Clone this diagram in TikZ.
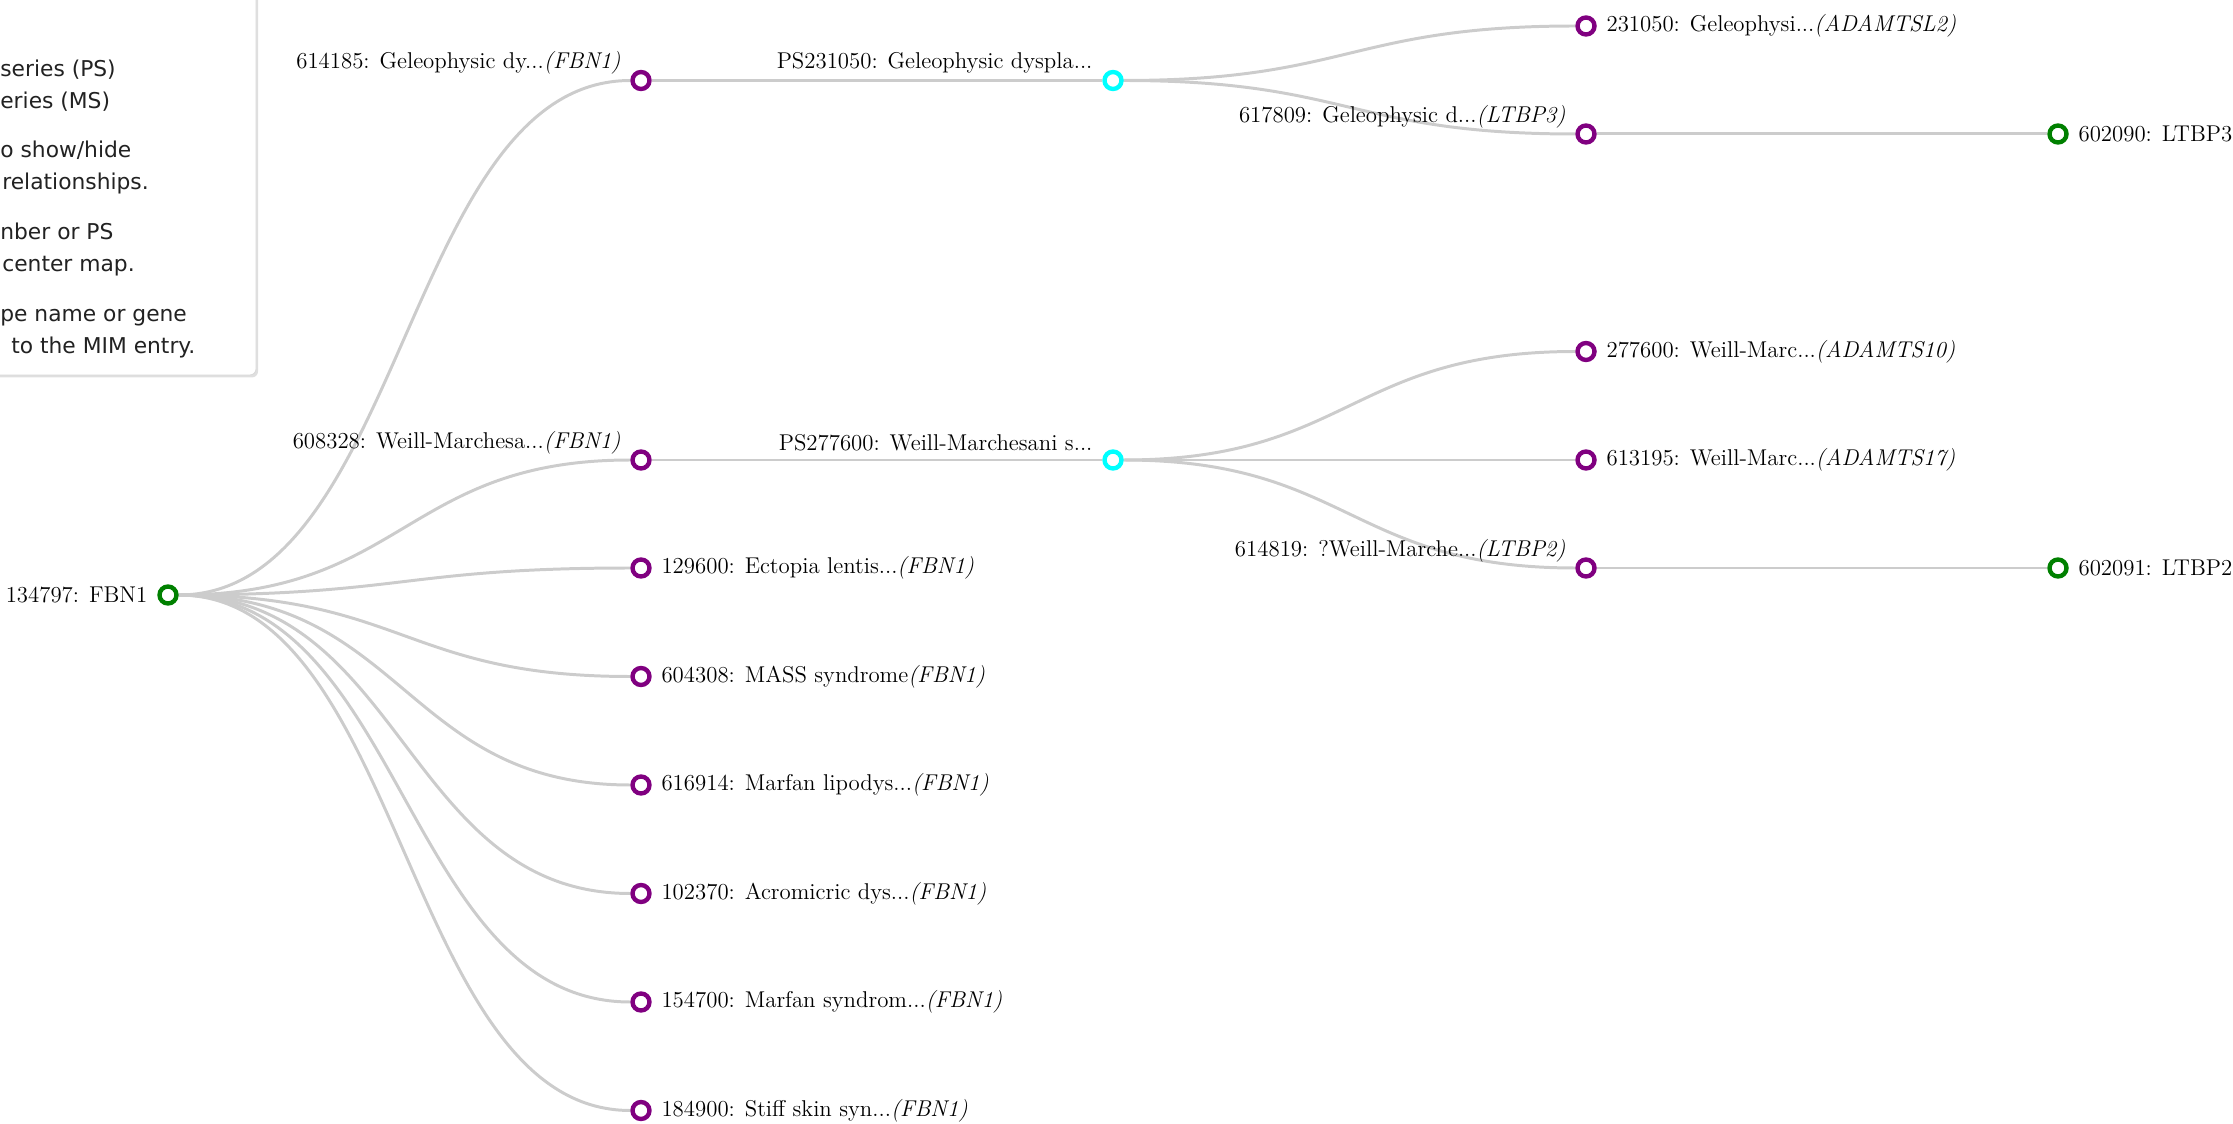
\documentclass[tikz,border=0pt]{standalone}
\usepackage{fontspec}
\newfontfamily\legendfont{DejaVu Sans}
\usetikzlibrary{positioning,backgrounds,shadows}
\definecolor{edgegray}{HTML}{CCCCCC}
\definecolor{omimpurple}{HTML}{800080}
\definecolor{omimgreen}{HTML}{008000}
\definecolor{omimcyan}{HTML}{00FFFF}
\definecolor{legendtxt}{HTML}{222222}
\newcommand{\trunc}{...}
\tikzset{
  mimnode/.style={circle,inner sep=0pt,minimum size=0.34cm,line width=2.5pt,fill=white},
  phenonode/.style={mimnode,draw=omimpurple},
  genenode/.style={mimnode,draw=omimgreen},
  psnode/.style={mimnode,draw=omimcyan},
  link/.style={draw=edgegray,line width=1.7pt,out=0,in=180,distance=4.5cm},
  rlabel/.style={anchor=west,inner sep=0pt,font=\fontsize{13}{15}\selectfont},
  llabel/.style={anchor=east,inner sep=0pt,font=\fontsize{13}{15}\selectfont},
  legendbox/.style={fill=white,draw=black!15,line width=0.5pt,rounded corners=0.12cm,
    drop shadow={opacity=0.25,shadow xshift=0.04cm,shadow yshift=-0.05cm}},
  legendline/.style={anchor=base west,inner sep=0pt,text=legendtxt,font=\legendfont\fontsize{12.4}{14}\selectfont}
}
\begin{document}
\begin{tikzpicture}[x=0.02cm,y=-0.02cm]
\useasboundingbox (0,0) rectangle (2233,1124);
\clip (0,0) rectangle (2233,1124);

% legend panel (cut off at the left)
\path[legendbox] (-400,-60) rectangle (256,375);
\node[legendline] (lgps) at (0,77) {series (PS)};
\node[legendline] (lgms) at (0,109) {eries (MS)};
\node[legendline] (lgshow) at (0,158) {o show/hide};
\node[legendline] (lgrel) at (2,190) {relationships.};
\node[legendline] (lgnum) at (0,240) {nber or PS};
\node[legendline] (lgmap) at (2,272) {center map.};
\node[legendline] (lgname) at (0,322) {pe name or gene};
\node[legendline] (lgmim) at (11,354) {to the MIM entry.};

% root gene
\node[genenode] (g134797) at (168,595) {};
\node[llabel,left=0.19cm of g134797] (t134797) {134797: FBN1};

% phenotypes of FBN1
\node[phenonode] (p614185) at (641,80.5) {};
\node[llabel,left=0.19cm of p614185,yshift=0.35cm] (t614185) {614185: Geleophysic dy...\textit{(FBN1)}};
\node[phenonode] (p608328) at (641,460) {};
\node[llabel,left=0.19cm of p608328,yshift=0.35cm] (t608328) {608328: Weill-Marchesa...\textit{(FBN1)}};
\foreach \mimno/\ypos/\desc in {129600/568/Ectopia lentis\trunc,604308/676.5/MASS syndrome,
  616914/785/Marfan lipodys\trunc,102370/893.5/Acromicric dys\trunc,
  154700/1002/Marfan syndrom\trunc,184900/1110.5/Stiff skin syn\trunc}{
  \node[phenonode] (p\mimno) at (641,\ypos) {};
  \node[rlabel,right=0.19cm of p\mimno] (t\mimno) {\mimno: \desc\textit{(FBN1)}};
}

% phenotypic series
\node[psnode] (s231050) at (1113,80.5) {};
\node[llabel,left=0.19cm of s231050,yshift=0.35cm] (ts231050) {PS231050: Geleophysic dyspla...};
\node[psnode] (s277600) at (1113,460) {};
\node[llabel,left=0.19cm of s277600,yshift=0.35cm] (ts277600) {PS277600: Weill-Marchesani s...};

% series members
\node[phenonode] (p231050) at (1586,26) {};
\node[rlabel,right=0.19cm of p231050] (t231050) {231050: Geleophysi...\textit{(ADAMTSL2)}};
\node[phenonode] (p617809) at (1586,134) {};
\node[llabel,left=0.19cm of p617809,yshift=0.35cm] (t617809) {617809: Geleophysic d...\textit{(LTBP3)}};
\node[phenonode] (p277600) at (1586,351.5) {};
\node[rlabel,right=0.19cm of p277600] (t277600) {277600: Weill-Marc...\textit{(ADAMTS10)}};
\node[phenonode] (p613195) at (1586,460) {};
\node[rlabel,right=0.19cm of p613195] (t613195) {613195: Weill-Marc...\textit{(ADAMTS17)}};
\node[phenonode] (p614819) at (1586,568) {};
\node[llabel,left=0.19cm of p614819,yshift=0.35cm] (t614819) {614819: ?Weill-Marche...\textit{(LTBP2)}};

% other genes
\node[genenode] (g602090) at (2058,134) {};
\node[rlabel,right=0.19cm of g602090] (t602090) {602090: LTBP3};
\node[genenode] (g602091) at (2058,568) {};
\node[rlabel,right=0.19cm of g602091] (t602091) {602091: LTBP2};

% links
\begin{scope}[on background layer]
\foreach \mimno in {614185,608328,129600,604308,616914,102370,154700,184900}
  \draw[link] (g134797) to (p\mimno);
\draw[link] (p614185) to (s231050);
\draw[link] (p608328) to (s277600);
\draw[link] (s231050) to (p231050);
\draw[link] (s231050) to (p617809);
\draw[link] (s277600) to (p277600);
\draw[link] (s277600) to (p613195);
\draw[link] (s277600) to (p614819);
\draw[link] (p617809) to (g602090);
\draw[link] (p614819) to (g602091);
\end{scope}
\end{tikzpicture}
\end{document}
